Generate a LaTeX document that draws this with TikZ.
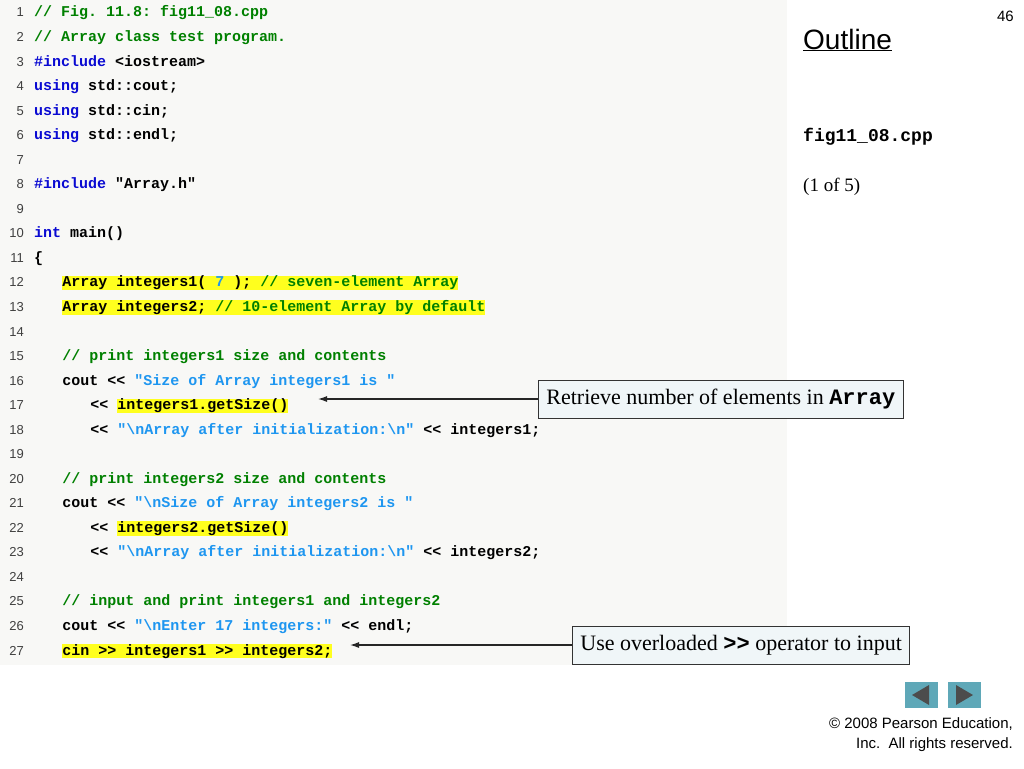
\documentclass[tikz,border=0pt]{standalone}
\usepackage{fontspec}
\setmainfont{Liberation Serif}
\setsansfont{Liberation Sans}
\setmonofont{Liberation Mono}
\usetikzlibrary{positioning,arrows.meta}
\definecolor{cmtgreen}{RGB}{0,128,0}
\definecolor{kwblue}{RGB}{10,10,210}
\definecolor{strblue}{RGB}{30,150,240}
\definecolor{hlyellow}{RGB}{255,255,30}
\definecolor{codebg}{RGB}{248,248,246}
\definecolor{notebg}{RGB}{240,246,248}
\definecolor{navteal}{RGB}{95,168,184}
\newcommand{\cm}[1]{\textcolor{cmtgreen}{#1}}
\newcommand{\kw}[1]{\textcolor{kwblue}{#1}}
\newcommand{\st}[1]{\textcolor{strblue}{#1}}
\newcommand{\hl}[1]{{\setlength{\fboxsep}{0pt}\colorbox{hlyellow}{\rule[-3pt]{0pt}{14pt}#1}}}
\tikzset{
  codeline/.style={anchor=base west, inner sep=0pt, font=\ttfamily\bfseries\fontsize{15}{15}\selectfont},
  lineno/.style={anchor=base east, inner sep=0pt, text=black!75, font=\sffamily\fontsize{13}{13}\selectfont},
  note/.style={draw=black!80, fill=notebg, line width=0.8pt, inner xsep=8pt, minimum height=38pt, font=\fontsize{22}{22}\selectfont},
  pointer/.style={-{Latex[length=9pt,width=6pt]}, line width=1.2pt, draw=black!85},
  navbtn/.style={fill=navteal, minimum width=33pt, minimum height=26pt, inner sep=0pt}
}
\begin{document}
\begin{tikzpicture}[x=1pt,y=-1pt]
  \useasboundingbox (0,0) rectangle (1024,768);
  \fill[codebg] (0,0) rectangle (787,665);
  % code lines: {number/indent/text}
  \foreach \n/\ind/\txt in {
      1/0/{\cm{// Fig. 11.8: fig11\_08.cpp}},
      2/0/{\cm{// Array class test program.}},
      3/0/{\kw{\#include} <iostream>},
      4/0/{\kw{using} std::cout;},
      5/0/{\kw{using} std::cin;},
      6/0/{\kw{using} std::endl;},
      7/0/{},
      8/0/{\kw{\#include} "Array.h"},
      9/0/{},
      10/0/{\kw{int} main()},
      11/0/{\{},
      12/3/{\hl{Array integers1( \st{7} ); \cm{// seven-element Array}}},
      13/3/{\hl{Array integers2; \cm{// 10-element Array by default}}},
      14/3/{},
      15/3/{\cm{// print integers1 size and contents}},
      16/3/{cout << \st{"Size of Array integers1 is "}},
      17/6/{<< \hl{integers1.getSize()}},
      18/6/{<< \st{"\textbackslash nArray after initialization:\textbackslash n"} << integers1;},
      19/3/{},
      20/3/{\cm{// print integers2 size and contents}},
      21/3/{cout << \st{"\textbackslash nSize of Array integers2 is "}},
      22/6/{<< \hl{integers2.getSize()}},
      23/6/{<< \st{"\textbackslash nArray after initialization:\textbackslash n"} << integers2;},
      24/3/{},
      25/3/{\cm{// input and print integers1 and integers2}},
      26/3/{cout << \st{"\textbackslash nEnter 17 integers:"} << endl;},
      27/3/{\hl{cin >> integers1 >> integers2;}}} {
    \pgfmathsetmacro{\ybase}{17+(\n-1)*24.54}
    \node[lineno] (num\n) at (24,\ybase) {\n};
    \node[codeline] (line\n) at ({34+\ind*9.36},\ybase) {\txt};
  }
  % slide furniture
  \node[anchor=north east, inner sep=0pt, font=\sffamily\fontsize{15}{15}\selectfont] (page) at (1014,11) {46};
  \node[anchor=west, inner sep=0pt, font=\sffamily\fontsize{28}{28}\selectfont] (outline) at (803,40) {\underline{Outline}};
  \node[anchor=west, inner sep=0pt, font=\ttfamily\bfseries\fontsize{18}{18}\selectfont] (fname) at (803,137) {fig11\_08.cpp};
  \node[anchor=west, inner sep=0pt, font=\fontsize{19}{19}\selectfont] (part) at (803,187) {(1 of 5)};
  % callouts
  \node[note, anchor=west] (noteA) at (538,399) {Retrieve number of elements in \texttt{\bfseries Array}};
  \node[note, anchor=west] (noteB) at (572,645) {Use overloaded \texttt{\bfseries >>} operator to input};
  \coordinate (tipA) at (318,400);
  \coordinate (tipB) at (350,648);
  \draw[pointer] (noteA.west) -- (noteA.west -| tipA);
  \draw[pointer] (noteB.west) -- (noteB.west -| tipB);
  % navigation
  \node[navbtn] (prev) at (921,695) {};
  \node[navbtn] (next) at (964,695) {};
  \fill[black!70] ([xshift=-9pt]prev.center) -- ++(17,-10) -- ++(0,20) -- cycle;
  \fill[black!70] ([xshift=9pt]next.center) -- ++(-17,-10) -- ++(0,20) -- cycle;
  \node[anchor=east, inner sep=0pt, align=right, font=\sffamily\fontsize{15}{20}\selectfont] (copy) at (1013,735) {\textcopyright{} 2008 Pearson Education,\\Inc.\ \ All rights reserved.};
\end{tikzpicture}
\end{document}
